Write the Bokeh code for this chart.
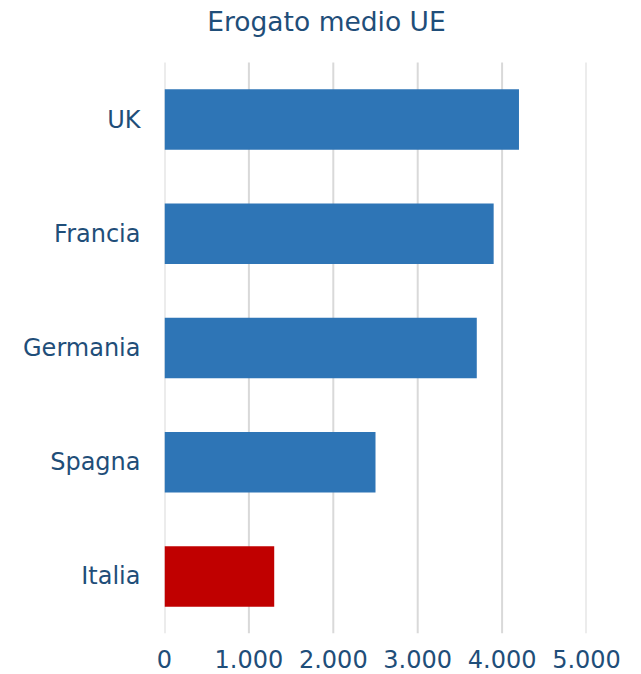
from bokeh.plotting import figure
from bokeh.models import FixedTicker, Range1d, ColumnDataSource, Label
from bokeh.embed import file_html
from bokeh.resources import INLINE

categories = ["Italia", "Spagna", "Germania", "Francia", "UK"]
values = [1300, 2500, 3700, 3900, 4200]
bar_colors = ["#C00000", "#2E75B6", "#2E75B6", "#2E75B6", "#2E75B6"]
tick_values = [0, 1000, 2000, 3000, 4000, 5000]
tick_labels = ["0", "1.000", "2.000", "3.000", "4.000", "5.000"]
title_text = "Erogato medio UE"

TEXT = "#1F4E79"
FONT = "DejaVu Sans"

n = len(categories)
pos = list(range(n))
y_lo, y_hi = -0.5, n - 0.5
unit_px = 571 / n           # pixels per category slot
top_px = 62                 # room above the bars for the title
y_top = y_hi + top_px / unit_px

src = ColumnDataSource(dict(y=pos, val=values, color=bar_colors))

p = figure(width=633, height=674, output_backend="svg", toolbar_location=None,
           y_range=Range1d(y_lo, y_top), x_range=Range1d(0, 5000), tools="",
           min_border_left=164, min_border_right=47, min_border_top=0, min_border_bottom=41)
p.frame_width = 422
p.frame_height = 633

# vertical gridlines, only across the bar area
p.segment(x0=tick_values, x1=tick_values, y0=[y_lo] * len(tick_values), y1=[y_hi] * len(tick_values),
          line_color="#D9D9D9", line_width=2)

p.hbar(y="y", right="val", left=0, height=0.53, color="color", source=src, line_color=None)

# title, centred over the whole picture
title_x = (326 - 164) / 422 * 5000
title_y = y_hi + (top_px - 21) / unit_px
p.add_layout(Label(x=title_x, y=title_y, text=title_text, text_align="center",
                   text_baseline="alphabetic", text_font=FONT, text_font_size="26.5px",
                   text_color=TEXT))

p.outline_line_color = None
p.background_fill_color = "white"
p.xgrid.visible = False
p.ygrid.visible = False

p.xaxis.ticker = FixedTicker(ticks=tick_values)
p.xaxis.major_label_overrides = {v: l for v, l in zip(tick_values, tick_labels)}
p.yaxis.ticker = FixedTicker(ticks=pos)
p.yaxis.major_label_overrides = {i: c for i, c in zip(pos, categories)}
for ax in (p.xaxis, p.yaxis):
    ax.axis_line_color = None
    ax.major_tick_line_color = None
    ax.minor_tick_line_color = None
    ax.major_label_text_font = FONT
    ax.major_label_text_font_size = "24px"
    ax.major_label_text_color = TEXT
p.xaxis.major_label_standoff = 10
p.yaxis.major_label_standoff = 18

open("out.html", "w").write(file_html(p, INLINE))
